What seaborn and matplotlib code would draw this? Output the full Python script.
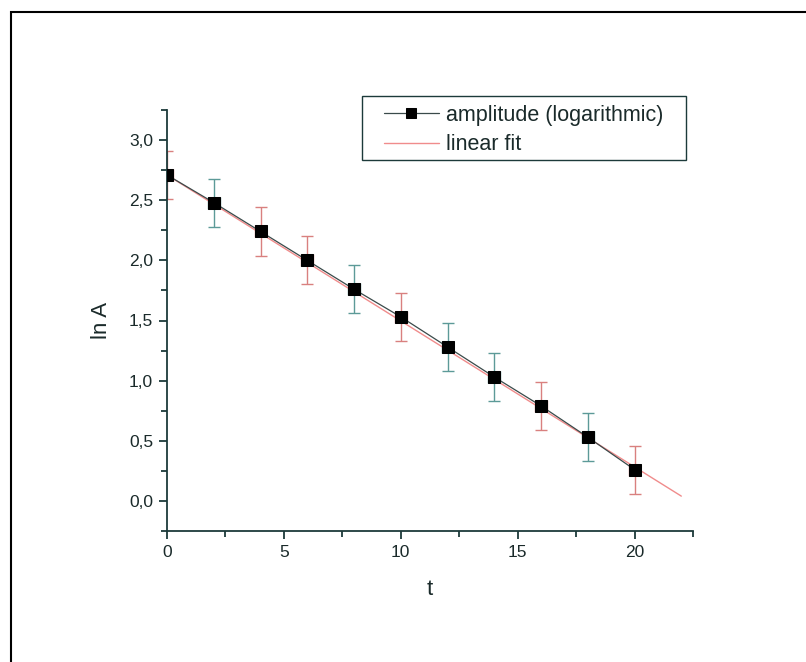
import numpy as np
import pandas as pd
import matplotlib
matplotlib.use("Agg")
import matplotlib.pyplot as plt
from matplotlib.patches import Rectangle
from matplotlib.ticker import MultipleLocator, FuncFormatter
import seaborn as sns

# Measured data
t_values = [0, 2, 4, 6, 8, 10, 12, 14, 16, 18, 20]
ln_amplitude = [2.71, 2.48, 2.24, 2.00, 1.76, 1.53, 1.28, 1.03, 0.79, 0.53, 0.26]
ln_amplitude_err = [0.20, 0.20, 0.20, 0.20, 0.20, 0.20, 0.20, 0.20, 0.20, 0.20, 0.20]
t_err = [0.25, 0.25, 0.25, 0.25, 0.25, 0.25, 0.25, 0.25, 0.25, 0.25, 0.25]

# Linear fit endpoints
fit_t = [0, 22]
fit_ln_amplitude = [2.71, 0.04]

sns.set_theme(style="white")
plt.rcParams["font.family"] = ["Liberation Sans", "DejaVu Sans"]

df = pd.DataFrame({"t": t_values, "lnA": ln_amplitude})
df_fit = pd.DataFrame({"t": fit_t, "lnA": fit_ln_amplitude})

fig = plt.figure(figsize=(8.06, 6.62), dpi=100)
ax = fig.add_axes([167 / 806, 1 - 531 / 662, 526 / 806, 421 / 662])

spine_col = "#1c3a3a"
text_col = "#1a2a2a"
err_cols = ["#d9807f", "#5c9a98", "#d9807f", "#d9807f", "#5c9a98", "#d9807f",
            "#5c9a98", "#5c9a98", "#d9807f", "#5c9a98", "#d9807f"]

# error bars
for i in range(len(t_values)):
    ax.errorbar(t_values[i], ln_amplitude[i], yerr=ln_amplitude_err[i], xerr=t_err[i],
                fmt="none", ecolor=err_cols[i], elinewidth=1.0, capsize=4, capthick=1.0, zorder=2)

sns.lineplot(data=df, x="t", y="lnA", ax=ax, color="#3a4a4a", linewidth=0.9,
             marker="s", markersize=8, markerfacecolor="black", markeredgecolor="black",
             label="amplitude (logarithmic)", zorder=4)
sns.lineplot(data=df_fit, x="t", y="lnA", ax=ax, color="#f08c8c", linewidth=1.0,
             label="linear fit", zorder=3)

ax.set_xlim(0, 22.5)
ax.set_ylim(-0.25, 3.25)
ax.xaxis.set_major_locator(MultipleLocator(5))
ax.xaxis.set_minor_locator(MultipleLocator(2.5))
ax.yaxis.set_major_locator(MultipleLocator(0.5))
ax.yaxis.set_minor_locator(MultipleLocator(0.25))
ax.yaxis.set_major_formatter(FuncFormatter(lambda v, p: f"{v:.1f}".replace(".", ",")))

for side in ["top", "right"]:
    ax.spines[side].set_visible(False)
for side in ["left", "bottom"]:
    ax.spines[side].set_color(spine_col)
    ax.spines[side].set_linewidth(1.3)

ax.tick_params(which="major", direction="out", length=6, width=1.3, color=spine_col,
               labelsize=12.5, labelcolor=text_col, left=True, bottom=True, pad=4)
ax.tick_params(which="minor", direction="out", length=4, width=1.3, color=spine_col,
               left=True, bottom=True)

ax.set_xlabel("t", fontsize=16, color=text_col, labelpad=14)
ax.set_ylabel("ln A", fontsize=16, color=text_col, labelpad=12)

# legend entries placed inside a separately drawn frame
leg = ax.legend(loc="upper left", bbox_to_anchor=(384 / 806, 1 - 105 / 662),
                bbox_transform=fig.transFigure, borderaxespad=0, borderpad=0,
                fontsize=15.5, frameon=False, handlelength=2.55,
                labelspacing=0.38, handletextpad=0.33, markerscale=0.85)
for txt in leg.get_texts():
    txt.set_color(text_col)

legend_box = Rectangle((362 / 806, 1 - 160 / 662), 324 / 806, 64 / 662,
                       transform=fig.transFigure, facecolor="white",
                       edgecolor=spine_col, linewidth=1.0, clip_on=False, zorder=4.5)
ax.add_artist(legend_box)
leg.set_zorder(6)

# page frame
fig.patches.append(Rectangle((11 / 806, -0.1), 1.2, 1 - 12 / 662 + 0.1,
                             transform=fig.transFigure, fill=False,
                             edgecolor="black", linewidth=1.5))

fig.savefig("out.png", dpi=100)
